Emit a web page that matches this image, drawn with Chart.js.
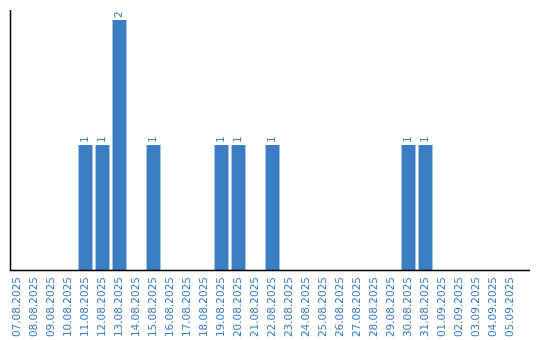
<!DOCTYPE html>
<html>
<head>
<meta charset="utf-8">
<script src="https://cdn.jsdelivr.net/npm/chart.js@4/dist/chart.umd.min.js"></script>
<style>
  html, body { margin: 0; padding: 0; background: #fff; }
  #wrap { width: 540px; height: 340px; }
</style>
</head>
<body>
<div id="wrap"><canvas id="grafica"></canvas></div>
<script>
// fechas y valores
const fechas = [
  '07.08.2025', '08.08.2025', '09.08.2025', '10.08.2025', '11.08.2025',
  '12.08.2025', '13.08.2025', '14.08.2025', '15.08.2025', '16.08.2025',
  '17.08.2025', '18.08.2025', '19.08.2025', '20.08.2025', '21.08.2025',
  '22.08.2025', '23.08.2025', '24.08.2025', '25.08.2025', '26.08.2025',
  '27.08.2025', '28.08.2025', '29.08.2025', '30.08.2025', '31.08.2025',
  '01.09.2025', '02.09.2025', '03.09.2025', '04.09.2025', '05.09.2025'
];
const valores = [
  0, 0, 0, 0, 1,
  1, 2, 0, 1, 0,
  0, 0, 1, 1, 0,
  1, 0, 0, 0, 0,
  0, 0, 0, 1, 1,
  0, 0, 0, 0, 0
];

const azul = '#3b7ec3';
const fuente = '10.5px "DejaVu Sans"';

// ejes dibujados a mano + etiquetas de valor giradas
const extras = {
  id: 'extras',
  afterDatasetsDraw(chart) {
    const ctx = chart.ctx;
    const area = chart.chartArea;
    ctx.save();
    ctx.strokeStyle = '#000';
    ctx.lineWidth = 1.5;
    ctx.beginPath();
    ctx.moveTo(10.5, 10);
    ctx.lineTo(10.5, area.bottom + 0.5);
    ctx.lineTo(530, area.bottom + 0.5);
    ctx.stroke();

    ctx.fillStyle = azul;
    ctx.font = fuente;
    ctx.textAlign = 'left';
    ctx.textBaseline = 'middle';
    chart.getDatasetMeta(0).data.forEach((bar, i) => {
      if (!valores[i]) return;
      ctx.save();
      ctx.translate(bar.x, bar.y - 2);
      ctx.rotate(-Math.PI / 2);
      ctx.fillText(String(valores[i]), 0, 0);
      ctx.restore();
    });
    ctx.restore();
  }
};

new Chart(document.getElementById('grafica'), {
  type: 'bar',
  data: {
    labels: fechas,
    datasets: [{
      data: valores,
      backgroundColor: azul,
      borderWidth: 0,
      categoryPercentage: 1,
      barPercentage: 0.82
    }]
  },
  options: {
    responsive: true,
    maintainAspectRatio: false,
    animation: false,
    layout: { padding: { top: 20, left: 9, right: 21, bottom: 0 } },
    plugins: { legend: { display: false }, tooltip: { enabled: false } },
    scales: {
      y: { display: false, min: 0, max: 2 },
      x: {
        grid: { display: false },
        border: { display: false },
        ticks: {
          color: azul,
          font: { family: 'DejaVu Sans', size: 10.5 },
          minRotation: 90,
          maxRotation: 90,
          autoSkip: false,
          padding: -1
        },
        afterFit(scale) { scale.height = 70; }
      }
    }
  },
  plugins: [extras]
});
</script>
</body>
</html>
